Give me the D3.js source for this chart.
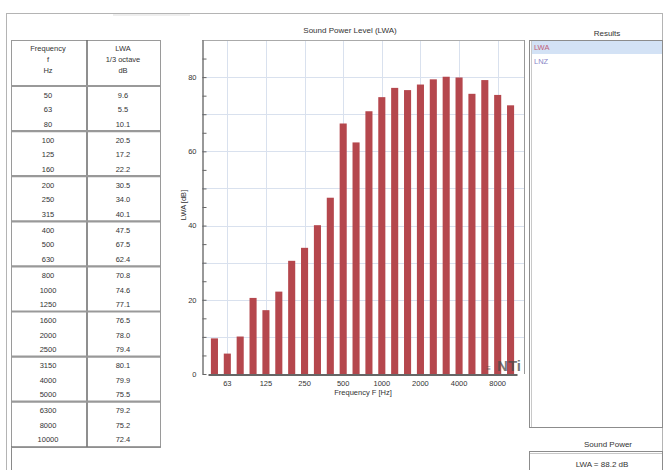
<!DOCTYPE html>
<html>
<head>
<meta charset="utf-8">
<script src="https://cdn.jsdelivr.net/npm/d3@7"></script>
<style>
  body { margin: 0; background: #fff; }
  svg { display: block; font-family: "Liberation Sans", Arial, sans-serif; }
</style>
</head>
<body>
<svg id="chart" width="668" height="470"></svg>
<script>
// third-octave bands and measured LWA values
var freqs = ["50","63","80","100","125","160","200","250","315","400","500","630",
             "800","1000","1250","1600","2000","2500","3150","4000","5000","6300","8000","10000"];
var lwa = [9.6, 5.5, 10.1, 20.5, 17.2, 22.2, 30.5, 34.0, 40.1, 47.5, 67.5, 62.4,
           70.8, 74.6, 77.1, 76.5, 78.0, 79.4, 80.1, 79.9, 75.5, 79.2, 75.2, 72.4];
var xTickLabels = ["63","125","250","500","1000","2000","4000","8000"];
var yLabelTicks = [0, 20, 40, 60, 80];
var headerLeft = ["Frequency", "f", "Hz"];
var headerRight = ["LWA", "1/3 octave", "dB"];
var results = ["LWA", "LNZ"];
var resultColors = ["#c0607a", "#8a86c8"];
var soundPower = "LWA = 88.2 dB";

var svg = d3.select("#chart");
var textCol = "#333";

// outer frame
svg.append("rect").attr("x", 6.5).attr("y", 13.5).attr("width", 656).attr("height", 470)
  .attr("fill", "none").attr("stroke", "#b4b4b4");
svg.append("rect").attr("x", 113).attr("y", 14).attr("width", 77).attr("height", 2).attr("fill", "#eeeeee");

// ---------- table ----------
var tLeft = 11, tMid = 87, tRight = 160, tTop = 40, tHead = 86, groupH = 45.1, rowH = 14.5;
var table = svg.append("g");
table.append("line").attr("x1", tLeft + 0.5).attr("x2", tLeft + 0.5).attr("y1", tTop).attr("y2", 470)
  .attr("stroke", "#8a8a8a");
table.append("rect").attr("x", tLeft + 0.5).attr("y", tTop + 0.5).attr("width", tRight - tLeft)
  .attr("height", 447 - tTop).attr("fill", "none").attr("stroke", "#9a9a9a");
table.append("line").attr("x1", tMid).attr("x2", tMid).attr("y1", tTop).attr("y2", 447)
  .attr("stroke", "#6a6a6a").attr("stroke-width", 1.5);

headerLeft.forEach(function(t, i) {
  table.append("text").attr("x", 48).attr("y", 48 + i * 11).attr("dy", "0.35em")
    .attr("text-anchor", "middle").attr("font-size", 7.5).attr("fill", textCol).text(t);
});
headerRight.forEach(function(t, i) {
  table.append("text").attr("x", 123).attr("y", 48 + i * 11).attr("dy", "0.35em")
    .attr("text-anchor", "middle").attr("font-size", 7.5).attr("fill", textCol).text(t);
});

var nGroups = freqs.length / 3;
for (var g = 0; g <= nGroups; g++) {
  var gy = tHead + g * groupH;
  table.append("line").attr("x1", tLeft).attr("x2", tRight + 0.5).attr("y1", gy).attr("y2", gy)
    .attr("stroke", g === nGroups ? "#777" : "#999").attr("stroke-width", g === nGroups ? 1 : 2.2);
}

var fmt = d3.format(".1f");
table.selectAll("text.freq").data(freqs).enter().append("text")
  .attr("class", "freq")
  .attr("x", 48)
  .attr("y", function(d, i) { return tHead + Math.floor(i / 3) * groupH + 9 + (i % 3) * rowH; })
  .attr("dy", "0.35em").attr("text-anchor", "middle").attr("font-size", 7.5).attr("fill", textCol)
  .text(function(d) { return d; });
table.selectAll("text.val").data(lwa).enter().append("text")
  .attr("class", "val")
  .attr("x", 123)
  .attr("y", function(d, i) { return tHead + Math.floor(i / 3) * groupH + 9 + (i % 3) * rowH; })
  .attr("dy", "0.35em").attr("text-anchor", "middle").attr("font-size", 7.5).attr("fill", textCol)
  .text(function(d) { return fmt(d); });

// ---------- bar chart ----------
var pl = 202, pr = 524, pt = 40, pb = 374;
var x = d3.scaleBand().domain(freqs).range([208, 517]).paddingInner(0.45).paddingOuter(0.225);
var y = d3.scaleLinear().domain([0, 90]).range([pb, pt]);

svg.append("text").attr("x", 350).attr("y", 33).attr("text-anchor", "middle")
  .attr("font-size", 8).attr("fill", textCol).text("Sound Power Level (LWA)");

var chart = svg.append("g");
chart.append("rect").attr("x", pl).attr("y", pt).attr("width", pr - pl).attr("height", pb - pt)
  .attr("fill", "#fff");

chart.selectAll("line.hgrid").data(d3.range(10, 90, 10)).enter().append("line")
  .attr("class", "hgrid")
  .attr("x1", pl).attr("x2", pr)
  .attr("y1", function(d) { return Math.round(y(d)) + 0.5; })
  .attr("y2", function(d) { return Math.round(y(d)) + 0.5; })
  .attr("stroke", "#d9e1ee");
chart.selectAll("line.vgrid").data(xTickLabels).enter().append("line")
  .attr("class", "vgrid")
  .attr("x1", function(d) { return Math.round(x(d) + x.bandwidth() / 2) + 0.5; })
  .attr("x2", function(d) { return Math.round(x(d) + x.bandwidth() / 2) + 0.5; })
  .attr("y1", pt).attr("y2", pb)
  .attr("stroke", "#d9e1ee");

chart.selectAll("rect.bar").data(lwa).enter().append("rect")
  .attr("class", "bar")
  .attr("x", function(d, i) { return x(freqs[i]); })
  .attr("width", x.bandwidth())
  .attr("y", function(d) { return y(d); })
  .attr("height", function(d) { return pb - y(d); })
  .attr("fill", "#b5474d");

// logo (semi-transparent over the bars)
chart.append("text").attr("x", 521).attr("y", 371).attr("text-anchor", "end")
  .attr("font-size", 15).attr("font-weight", "bold").attr("fill", "#4a4a4a").attr("fill-opacity", 0.75)
  .text("NTi");
chart.append("text").attr("x", 491).attr("y", 371).attr("text-anchor", "end")
  .attr("font-size", 8).attr("font-weight", "bold").attr("fill", "#4a4a4a").attr("fill-opacity", 0.75)
  .text("\u2261");

// plot border
chart.append("line").attr("x1", pl).attr("x2", pr + 0.5).attr("y1", pt + 0.5).attr("y2", pt + 0.5).attr("stroke", "#aaa");
chart.append("line").attr("x1", pr + 0.5).attr("x2", pr + 0.5).attr("y1", pt).attr("y2", pb).attr("stroke", "#999");

var yAxis = chart.append("g").attr("transform", "translate(" + (pl + 0.5) + ",0)")
  .call(d3.axisLeft(y).tickValues(d3.range(0, 90, 5)).tickSizeInner(-4).tickSizeOuter(0).tickPadding(6)
    .tickFormat(function(d) { return yLabelTicks.indexOf(d) >= 0 ? d : ""; }));
yAxis.selectAll("text").attr("font-size", 7.5).attr("fill", textCol).attr("font-family", null);
yAxis.selectAll("line").attr("stroke", "#666");
yAxis.select(".domain").attr("stroke", "#333");

var xAxis = chart.append("g").attr("transform", "translate(0," + (pb + 0.5) + ")")
  .call(d3.axisBottom(x).tickValues(xTickLabels).tickSize(0).tickPadding(6));
xAxis.selectAll("text").attr("font-size", 7.5).attr("fill", textCol).attr("font-family", null);
xAxis.select(".domain").attr("stroke", "#333").attr("stroke-width", 1.5);

svg.append("text").attr("x", 363).attr("y", 395).attr("text-anchor", "middle")
  .attr("font-size", 7.5).attr("fill", textCol).text("Frequency F [Hz]");
svg.append("text").attr("transform", "translate(186,205) rotate(-90)").attr("text-anchor", "middle")
  .attr("font-size", 7.5).attr("fill", textCol).text("LWA [dB]");

// ---------- results panel ----------
svg.append("text").attr("x", 607).attr("y", 33).attr("dy", "0.35em").attr("text-anchor", "middle")
  .attr("font-size", 8).attr("fill", textCol).text("Results");
var res = svg.append("g");
res.append("rect").attr("x", 529.5).attr("y", 40.5).attr("width", 133).attr("height", 387)
  .attr("fill", "#fff").attr("stroke", "#8c8c8c");
res.append("line").attr("x1", 531.5).attr("x2", 531.5).attr("y1", 41).attr("y2", 427).attr("stroke", "#c8c8c8");
res.append("rect").attr("x", 532).attr("y", 41).attr("width", 130).attr("height", 13).attr("fill", "#d3e2f5");
res.selectAll("text.res").data(results).enter().append("text")
  .attr("class", "res")
  .attr("x", 534).attr("y", function(d, i) { return 47.5 + i * 14; }).attr("dy", "0.35em")
  .attr("font-size", 7.5).attr("fill", function(d, i) { return resultColors[i]; })
  .text(function(d) { return d; });

svg.append("text").attr("x", 608).attr("y", 444).attr("dy", "0.35em").attr("text-anchor", "middle")
  .attr("font-size", 8).attr("fill", textCol).text("Sound Power");
svg.append("rect").attr("x", 529.5).attr("y", 451.5).attr("width", 133).attr("height", 30)
  .attr("fill", "#fff").attr("stroke", "#8c8c8c");
svg.append("line").attr("x1", 530).attr("x2", 662).attr("y1", 453.5).attr("y2", 453.5).attr("stroke", "#c8c8c8");
svg.append("text").attr("x", 602).attr("y", 464).attr("dy", "0.35em").attr("text-anchor", "middle")
  .attr("font-size", 8).attr("fill", textCol).text(soundPower);
</script>
</body>
</html>
